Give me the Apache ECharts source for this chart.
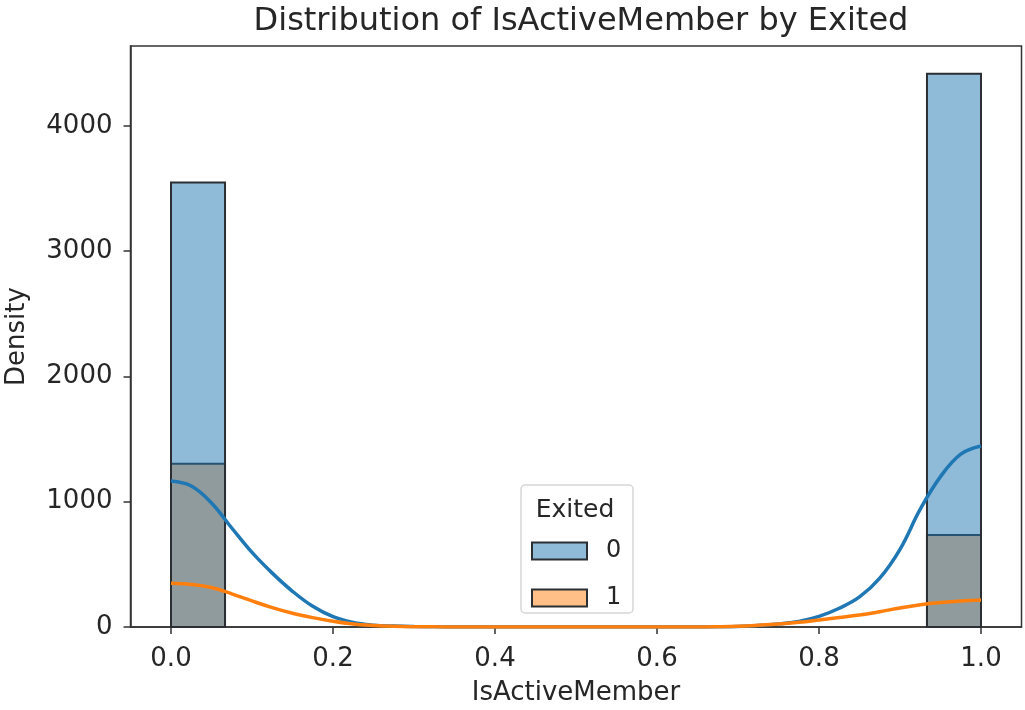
<!DOCTYPE html>
<html>
<head>
<meta charset="utf-8">
<script src="https://cdn.jsdelivr.net/npm/echarts@6/dist/echarts.min.js"></script>
<style>
  html, body { margin: 0; padding: 0; background: #fff; }
  #chart { width: 1025px; height: 710px; }
</style>
</head>
<body>
<div id="chart"></div>
<script>
// histogram bins (IsActiveMember), left / right edges
var binLeft = [0, 0.9333];
var binRight = [0.0667, 1.0];
var stayedCounts = [3547, 4416];   // Exited = 0
var exitedCounts = [1302, 735];    // Exited = 1

// kde curves, every 0.025
var kdeStep = 0.025;
var kdeStayed = [1165, 1125, 990, 790, 595, 430, 285, 165, 82, 36, 15, 7, 3, 1,
                 0, 0, 0, 0, 0, 0, 0, 0, 0, 0, 0, 0, 0,
                 1, 4, 12, 25, 45, 85, 150, 240, 390, 620, 940, 1200, 1380, 1445];
var kdeExited = [350, 340, 315, 265, 208, 155, 110, 75, 46, 24, 12, 5, 2, 1,
                 0, 0, 0, 0, 0, 0, 0, 0, 0, 0, 0, 0, 0,
                 2, 6, 14, 24, 38, 56, 75, 95, 122, 152, 178, 196, 208, 216];

var xTicks = [0, 0.2, 0.4, 0.6, 0.8, 1.0];

var blueFill = 'rgba(31,119,180,0.5)';
var orangeFill = 'rgba(255,127,14,0.5)';
var edge = '#2b2f33';

function barData(counts) {
  return counts.map(function (v, i) { return [binLeft[i], binRight[i], v]; });
}
function kdeData(vals) {
  return vals.map(function (v, i) { return [+(i * kdeStep).toFixed(3), v]; });
}

function renderBar(params, api) {
  var p0 = api.coord([api.value(0), api.value(2)]);
  var p1 = api.coord([api.value(1), 0]);
  return {
    type: 'rect',
    shape: { x: p0[0], y: p0[1], width: p1[0] - p0[0], height: p1[1] - p0[1] },
    style: { fill: api.visual('color'), stroke: edge, lineWidth: 2 }
  };
}

var chart = echarts.init(document.getElementById('chart'));
var font = 'DejaVu Sans';
var textColor = '#262626';

var option = {
  animation: false,
  backgroundColor: '#fff',
  title: {
    text: 'Distribution of IsActiveMember by Exited',
    left: 576,
    textAlign: 'center',
    top: 1,
    textStyle: { fontFamily: font, fontSize: 32, fontWeight: 'normal', color: textColor }
  },
  grid: {
    left: 130.5, right: 3.5, top: 46, bottom: 83,
    outerBoundsMode: 'none',
    show: true, borderColor: '#333', borderWidth: 1.5
  },
  legend: {
    orient: 'vertical',
    left: 531,
    top: 539,
    padding: 0,
    itemWidth: 55,
    itemHeight: 17,
    itemGap: 23,
    selectedMode: false,
    textStyle: { fontFamily: font, fontSize: 24, color: textColor, padding: [0, 0, 0, 14] },
    data: [
      { name: '0', icon: 'rect', itemStyle: { color: blueFill, borderColor: edge, borderWidth: 2 } },
      { name: '1', icon: 'rect', itemStyle: { color: orangeFill, borderColor: edge, borderWidth: 2 } }
    ]
  },
  graphic: [
    {
      type: 'rect', z: 3,
      shape: { x: 521, y: 485, width: 112, height: 128, r: 4 },
      style: { fill: 'rgba(255,255,255,0.85)', stroke: '#d6d6d6', lineWidth: 1.5 }
    },
    {
      type: 'text', z: 5,
      x: 575, y: 510,
      style: { text: 'Exited', fontFamily: font, fontSize: 25, fill: textColor, align: 'center', verticalAlign: 'middle' }
    }
  ],
  xAxis: {
    type: 'value',
    min: -0.05,
    max: 1.05,
    name: 'IsActiveMember',
    nameLocation: 'middle',
    nameGap: 53,
    nameTextStyle: { fontFamily: font, fontSize: 26, color: textColor },
    splitLine: { show: false },
    axisLine: { show: true, onZero: false, lineStyle: { color: '#333', width: 1.5 } },
    axisTick: { show: true, customValues: xTicks, length: 7, lineStyle: { color: '#333', width: 1.5 } },
    axisLabel: {
      customValues: xTicks, margin: 19,
      fontFamily: font, fontSize: 26, color: textColor,
      formatter: function (v) { return v.toFixed(1); }
    }
  },
  yAxis: {
    type: 'value',
    min: 0,
    max: 4637,
    interval: 1000,
    name: 'Density',
    nameLocation: 'middle',
    nameGap: 100,
    nameTextStyle: { fontFamily: font, fontSize: 26, color: textColor },
    splitLine: { show: false },
    axisLine: { show: true, onZero: false, lineStyle: { color: '#333', width: 1.5 } },
    axisTick: { show: true, length: 7, lineStyle: { color: '#333', width: 1.5 } },
    axisLabel: {
      showMaxLabel: false, margin: 18,
      fontFamily: font, fontSize: 26, color: textColor,
      formatter: function (v) { return String(v); }
    }
  },
  series: [
    {
      name: '1',
      type: 'custom',
      renderItem: renderBar,
      itemStyle: { color: orangeFill, borderColor: edge, borderWidth: 2 },
      encode: { x: [0, 1], y: 2 },
      data: barData(exitedCounts),
      z: 2
    },
    {
      name: '0',
      type: 'custom',
      renderItem: renderBar,
      itemStyle: { color: blueFill, borderColor: edge, borderWidth: 2 },
      encode: { x: [0, 1], y: 2 },
      data: barData(stayedCounts),
      z: 3
    },
    {
      name: 'kde 0',
      type: 'line',
      data: kdeData(kdeStayed),
      showSymbol: false,
      smooth: 0.4,
      lineStyle: { color: '#1f77b4', width: 3.5 },
      z: 4
    },
    {
      name: 'kde 1',
      type: 'line',
      data: kdeData(kdeExited),
      showSymbol: false,
      smooth: 0.4,
      lineStyle: { color: '#ff7f0e', width: 3.5 },
      z: 4
    }
  ]
};

chart.setOption(option);
</script>
</body>
</html>
